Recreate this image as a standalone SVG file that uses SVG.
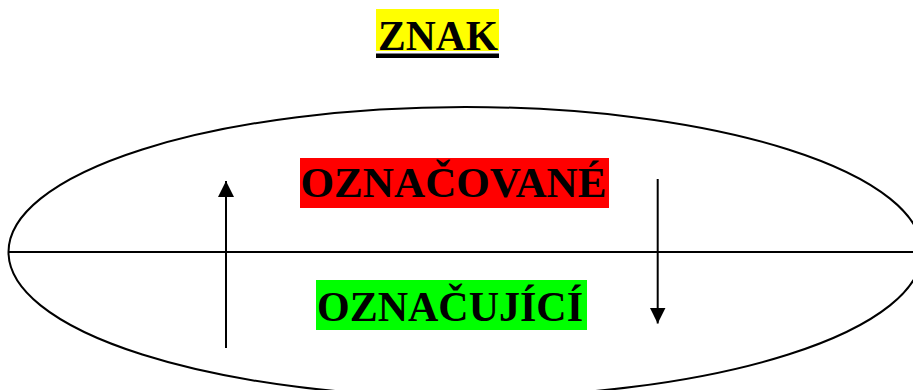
<svg xmlns="http://www.w3.org/2000/svg" width="913" height="390" viewBox="0 0 913 390">
<style>
.lbl{font-family:"Liberation Serif","Times New Roman",serif;font-weight:bold;font-size:42px;fill:#000}
.ln{stroke:#000;stroke-width:2;fill:none}
</style>
<defs>
<marker id="ah" viewBox="0 0 16 16" refX="16" refY="8" markerWidth="16" markerHeight="16" markerUnits="userSpaceOnUse" orient="auto">
<path d="M0,0 L16,8 L0,16 z" fill="#000"/>
</marker>
</defs>
<rect width="913" height="390" fill="#fff"/>
<g id="title">
<rect x="376" y="9" width="123" height="42" fill="#ffff00"/>
<rect x="376" y="53.5" width="123" height="4.5" fill="#000"/>
<text class="lbl" x="378" y="50" textLength="120" lengthAdjust="spacingAndGlyphs">ZNAK</text>
</g>
<g id="sign">
<ellipse class="ln" cx="465.3" cy="252" rx="456.8" ry="145"/>
<line class="ln" x1="9" y1="252" x2="920" y2="252"/>
</g>
<g id="signified">
<rect x="300" y="158" width="309" height="50" fill="#ff0000"/>
<text class="lbl" x="300.5" y="197" textLength="306" lengthAdjust="spacingAndGlyphs">OZNAČOVANÉ</text>
</g>
<g id="signifier">
<rect x="316" y="280" width="271" height="50" fill="#00ff00"/>
<text class="lbl" x="317" y="321" textLength="266" lengthAdjust="spacingAndGlyphs">OZNAČUJÍCÍ</text>
</g>
<g id="connectors">
<line class="ln" x1="226" y1="348" x2="226" y2="181" marker-end="url(#ah)"/>
<line class="ln" x1="657.7" y1="179" x2="657.7" y2="323.5" marker-end="url(#ah)"/>
</g>
</svg>
